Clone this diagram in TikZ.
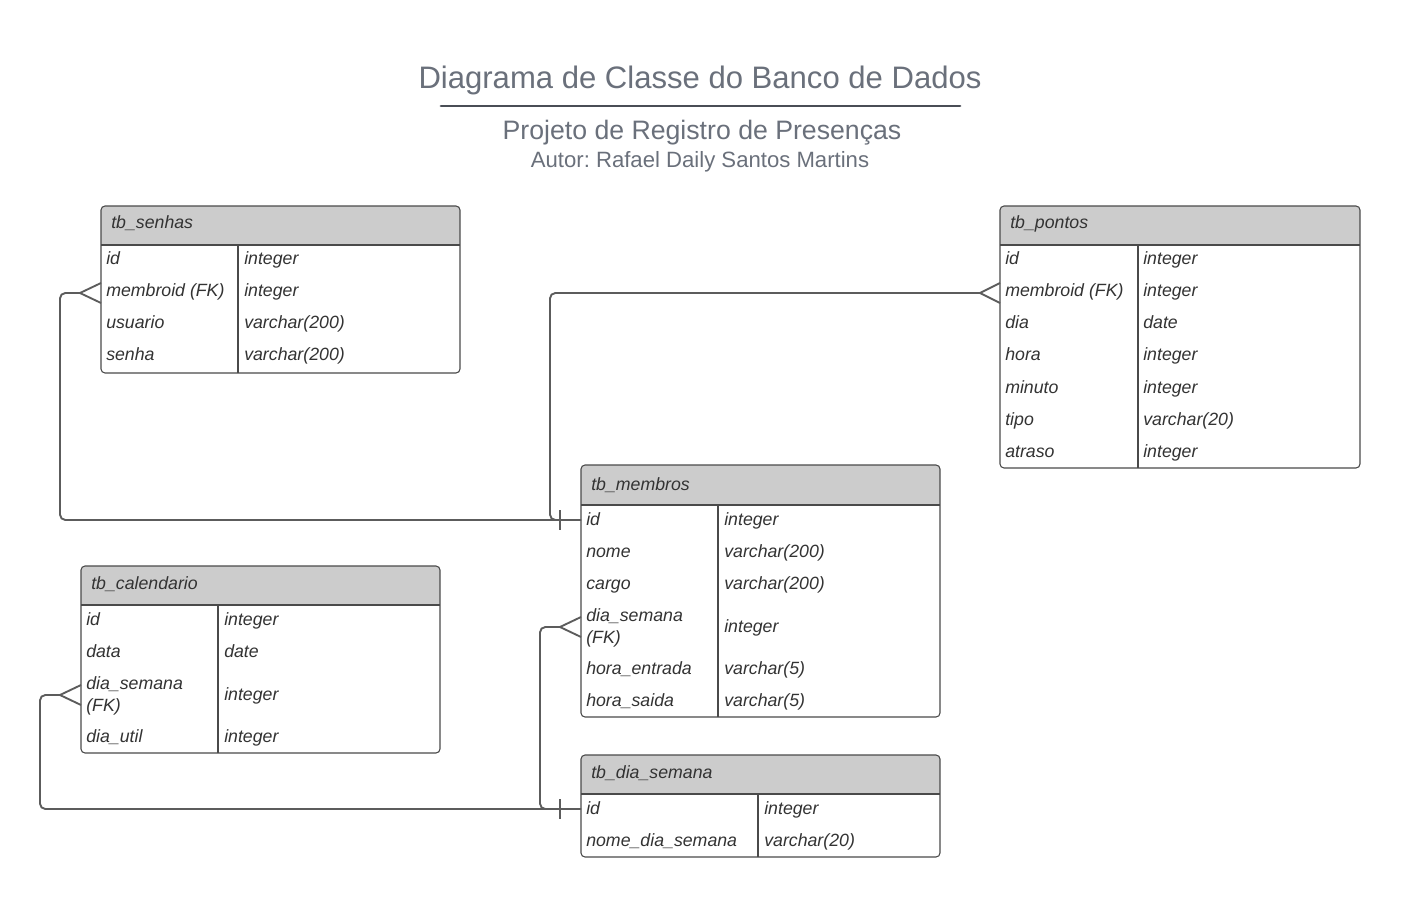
\documentclass[tikz,border=0pt]{standalone}
\usepackage{fontspec}
\setmainfont{Liberation Sans}
\frenchspacing
\usetikzlibrary{calc}
\definecolor{titlec}{HTML}{6A707B}
\definecolor{txt}{HTML}{333333}
\definecolor{headfill}{HTML}{CCCCCC}
\definecolor{border}{HTML}{4A4A4A}
\definecolor{linec}{HTML}{5C5C5C}
\newcommand{\cellfont}{\fontsize{13.3}{16.5}\selectfont\itshape}
\tikzset{
  cell/.style={font=\cellfont, text=txt, anchor=base west, inner sep=0pt, align=left},
  tbl/.style={draw=border, line width=0.8pt, rounded corners=3pt},
  sep/.style={draw=border, line width=0.8pt},
  link/.style={draw=linec, line width=1.4pt, rounded corners=4pt},
  foot/.style={draw=linec, line width=1.4pt},
}
% \ertable{x1}{y1}{x2}{y2}{yheader}{xdivider}
\newcommand{\ertable}[6]{%
  \fill[white, rounded corners=3pt] (#1,#2) rectangle (#3,#4);
  \begin{scope}
    \clip[rounded corners=3pt] (#1,#2) rectangle (#3,#4);
    \fill[headfill] (#1,#2) rectangle (#3,#5);
  \end{scope}
  \draw[sep] (#1,#5) -- (#3,#5);
  \draw[sep] (#6,#5) -- (#6,#4);
  \draw[tbl] (#1,#2) rectangle (#3,#4);
}
\begin{document}
\begin{tikzpicture}[x=0.75pt,y=-0.75pt]
\useasboundingbox[fill=white] (0,0) rectangle (1420,898);

% titles
\node[font=\fontsize{23.3}{28}\selectfont, text=titlec, anchor=base, inner sep=0pt] (title) at (700,89) {Diagrama de Classe do Banco de Dados};
\draw[draw=titlec!70!black, line width=2.2pt, line cap=round] (441,106) -- (960,106);
\node[font=\fontsize{20}{24}\selectfont, text=titlec, anchor=base, inner sep=0pt] (subtitle) at (702,140) {Projeto de Registro de Presenças};
\node[font=\fontsize{16.6}{20}\selectfont, text=titlec, anchor=base, inner sep=0pt] (author) at (700,168) {Autor: Rafael Daily Santos Martins};

% tb_senhas
\ertable{101}{206}{460}{373}{245}{238}
\node[cell] (senhas) at (111,229) {tb\_senhas};
\foreach \a/\b [count=\i] in {id/integer, membroid (FK)/integer, usuario/varchar(200), senha/varchar(200)}{
  \node[cell] (senhas-n\i) at (106,{233+32*\i}) {\a};
  \node[cell] (senhas-t\i) at (244,{233+32*\i}) {\b};
}

% tb_pontos
\ertable{1000}{206}{1360}{468}{245}{1138}
\node[cell] (pontos) at (1010,229) {tb\_pontos};
\foreach \a/\b [count=\i] in {id/integer, membroid (FK)/integer, dia/date, hora/integer, minuto/integer, tipo/varchar(20), atraso/integer}{
  \node[cell] (pontos-n\i) at (1005,{233+32*\i}) {\a};
  \node[cell] (pontos-t\i) at (1143,{233+32*\i}) {\b};
}

% tb_membros
\ertable{581}{465}{940}{717}{505}{718}
\node[cell] (membros) at (591,490) {tb\_membros};
\node[cell] (membros-n1) at (586,525) {id};
\node[cell] (membros-t1) at (724,525) {integer};
\node[cell] (membros-n2) at (586,557) {nome};
\node[cell] (membros-t2) at (724,557) {varchar(200)};
\node[cell] (membros-n3) at (586,589) {cargo};
\node[cell] (membros-t3) at (724,589) {varchar(200)};
\node[cell] (membros-n4) at (586,643) {dia\_semana\\(FK)};
\node[cell] (membros-t4) at (724,632) {integer};
\node[cell] (membros-n5) at (586,674) {hora\_entrada};
\node[cell] (membros-t5) at (724,674) {varchar(5)};
\node[cell] (membros-n6) at (586,706) {hora\_saida};
\node[cell] (membros-t6) at (724,706) {varchar(5)};

% tb_calendario
\ertable{81}{566}{440}{753}{605}{218}
\node[cell] (cal) at (91,589) {tb\_calendario};
\node[cell] (cal-n1) at (86,625) {id};
\node[cell] (cal-t1) at (224,625) {integer};
\node[cell] (cal-n2) at (86,657) {data};
\node[cell] (cal-t2) at (224,657) {date};
\node[cell] (cal-n3) at (86,711) {dia\_semana\\(FK)};
\node[cell] (cal-t3) at (224,700) {integer};
\node[cell] (cal-n4) at (86,742) {dia\_util};
\node[cell] (cal-t4) at (224,742) {integer};

% tb_dia_semana
\ertable{581}{755}{940}{857}{794}{758}
\node[cell] (dsem) at (591,778) {tb\_dia\_semana};
\node[cell] (dsem-n1) at (586,814) {id};
\node[cell] (dsem-t1) at (764,814) {integer};
\node[cell] (dsem-n2) at (586,846) {nome\_dia\_semana};
\node[cell] (dsem-t2) at (764,846) {varchar(20)};

% connector anchors
\coordinate (membros-id) at (581,520);
\coordinate (dsem-id) at (581,809);
\coordinate (senhas-foot) at (80,293);
\coordinate (pontos-foot) at (980,293);
\coordinate (membros-foot) at (560,627);
\coordinate (cal-foot) at (60,695);

% connectors
\draw[link] (membros-id) -| (60,400) |- (senhas-foot);
\draw[link] (membros-id) -| (550,400) |- (pontos-foot);
\draw[link] (dsem-id) -| (540,700) |- (membros-foot);
\draw[link] (dsem-id) -| (40,750) |- (cal-foot);

% one marks
\draw[foot] (560,510) -- (560,530);
\draw[foot] (560,799) -- (560,819);

% many marks
\draw[foot] (101,283) -- (senhas-foot) -- (101,303);
\draw[foot] (1000,283) -- (pontos-foot) -- (1000,303);
\draw[foot] (581,617) -- (membros-foot) -- (581,637);
\draw[foot] (81,685) -- (cal-foot) -- (81,705);
\end{tikzpicture}
\end{document}
